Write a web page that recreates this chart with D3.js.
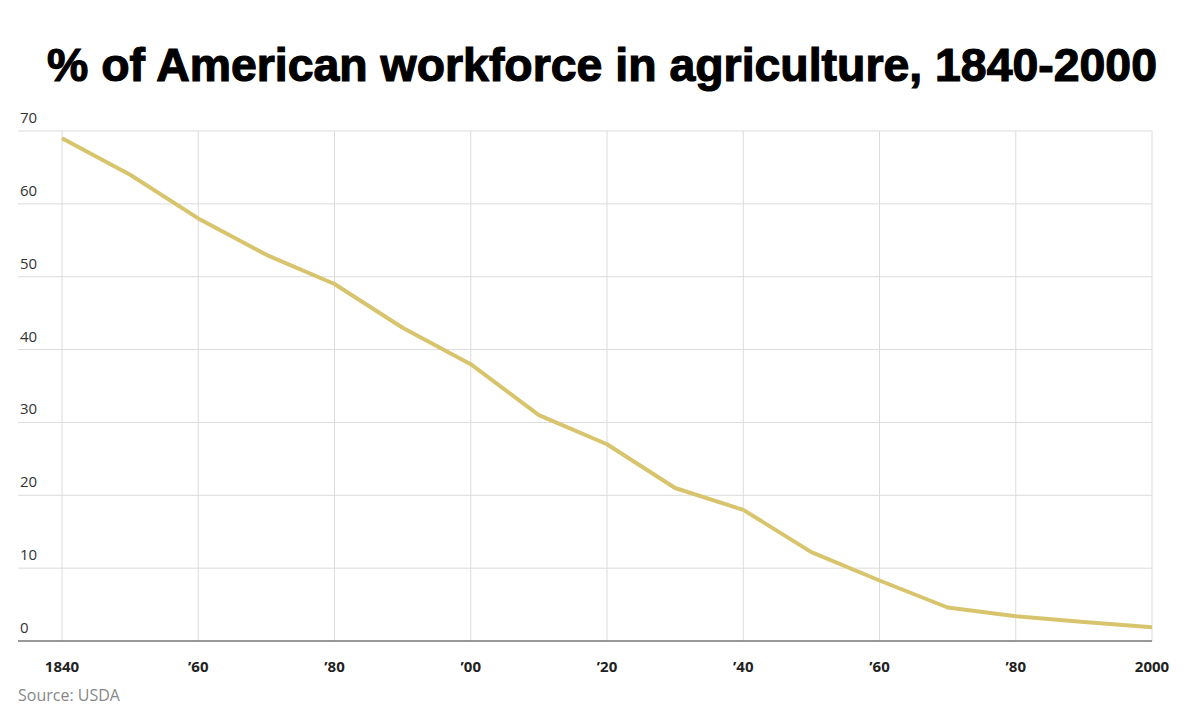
<!DOCTYPE html>
<html>
<head>
<meta charset="utf-8">
<script src="https://cdn.jsdelivr.net/npm/d3@7"></script>
<style>
  body { margin: 0; background: #fff; }
</style>
</head>
<body>
<div id="chart"></div>
<script>
// Data
const years = [1840, 1850, 1860, 1870, 1880, 1890, 1900, 1910, 1920, 1930, 1940, 1950, 1960, 1970, 1980, 1990, 2000]
const shares = [69, 64, 58, 53, 49, 43, 38, 31, 27, 21, 18, 12.2, 8.3, 4.6, 3.4, 2.6, 1.9]
const xTicks = [1840, 1860, 1880, 1900, 1920, 1940, 1960, 1980, 2000]
const xTickLabels = ['1840', '’60', '’80', '’00', '’20', '’40', '’60', '’80', '2000']
const yTicks = [0, 10, 20, 30, 40, 50, 60, 70]

function draw(){
    const width = 1200
    const height = 725
    const left = 62, right = 1152, top = 131, bottom = 641

    const xScale = d3.scaleLinear().domain([1840, 2000]).range([left, right])
    const yScale = d3.scaleLinear().domain([0, 70]).range([bottom, top])

    const svg = d3.select('#chart').append('svg')
        .attr('width', width)
        .attr('height', height)
        .style('font-family', "'Open Sans', sans-serif")

    // Title (heavy, slightly condensed)
    svg.append('text')
        .attr('x', 47)
        .attr('y', 81)
        .attr('textLength', 1110)
        .attr('lengthAdjust', 'spacingAndGlyphs')
        .style('font-family', "'Liberation Sans', Arial, sans-serif")
        .style('font-weight', 700)
        .style('font-size', '47px')
        .attr('fill', '#000')
        .attr('stroke', '#000')
        .attr('stroke-width', 1.2)
        .text('% of American workforce in agriculture, 1840-2000')

    // Horizontal grid
    svg.append('g').selectAll('line')
        .data(yTicks.filter(d => d > 0))
        .join('line')
        .attr('x1', 18).attr('x2', right)
        .attr('y1', d => yScale(d)).attr('y2', d => yScale(d))
        .attr('stroke', '#dcdcdc').attr('stroke-width', 1)

    // Vertical grid
    svg.append('g').selectAll('line')
        .data(xTicks)
        .join('line')
        .attr('x1', d => xScale(d)).attr('x2', d => xScale(d))
        .attr('y1', top).attr('y2', bottom)
        .attr('stroke', '#dcdcdc').attr('stroke-width', 1)

    // Y labels
    svg.append('g').selectAll('text')
        .data(yTicks)
        .join('text')
        .attr('x', 20)
        .attr('y', d => yScale(d) - 8)
        .attr('fill', '#333')
        .style('font-size', '15px')
        .text(d => d)

    // Baseline
    svg.append('line')
        .attr('x1', 18).attr('x2', right)
        .attr('y1', bottom).attr('y2', bottom)
        .attr('stroke', '#777').attr('stroke-width', 1.5)

    // X labels
    svg.append('g').selectAll('text')
        .data(xTicks)
        .join('text')
        .attr('x', d => xScale(d))
        .attr('y', 672)
        .attr('text-anchor', 'middle')
        .attr('fill', '#222')
        .style('font-size', '15px')
        .style('font-weight', 700)
        .text((d, i) => xTickLabels[i])

    // Line
    const line = d3.line()
        .x((d, i) => xScale(years[i]))
        .y(d => yScale(d))

    svg.append('path')
        .datum(shares)
        .attr('d', line)
        .attr('fill', 'none')
        .attr('stroke', '#d8c46c')
        .attr('stroke-width', 4)
        .attr('stroke-linejoin', 'round')

    // Source
    svg.append('text')
        .attr('x', 18)
        .attr('y', 701)
        .attr('fill', '#888')
        .style('font-size', '16px')
        .text('Source: USDA')
}
draw()
</script>
</body>
</html>
